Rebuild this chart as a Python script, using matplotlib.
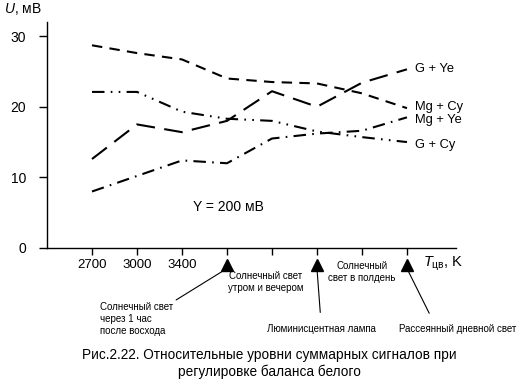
import matplotlib
matplotlib.use("Agg")
import matplotlib.pyplot as plt

plt.rcParams["font.family"] = ["Liberation Sans", "DejaVu Sans"]
plt.rcParams["mathtext.fontset"] = "custom"
plt.rcParams["mathtext.rm"] = "Liberation Sans"
plt.rcParams["mathtext.it"] = "Liberation Sans:italic"

# ----- Data -----
# x positions of the colour temperature ticks (only the first three are labelled)
x_pos = [0, 1, 2, 3, 4, 5, 6, 7]
tick_labels = ["2700", "3000", "3400", "", "", "", "", ""]

mg_cy = [28.7, 27.6, 26.7, 24.0, 23.5, 23.3, 21.9, 19.8]
g_ye = [12.6, 17.5, 16.4, 18.0, 22.2, 20.0, 23.4, 25.3]
g_cy = [22.1, 22.1, 19.3, 18.3, 18.0, 16.5, 15.7, 15.0]
mg_ye = [8.0, 10.2, 12.4, 12.0, 15.5, 16.2, 16.6, 18.5]

series_names = ["G + Ye", "Mg + Cy", "Mg + Ye", "G + Cy"]

# light sources marked under the axis
source_x = [3, 5, 7]

# ----- Plot -----
fig = plt.figure(figsize=(5.2, 3.87), dpi=100)
ax = fig.add_axes([47 / 520, 1 - 248 / 387, 409 / 520, 226 / 387])

lw = 1.5
ax.plot(x_pos, mg_cy, color="black", lw=lw, dashes=(5, 3.5))
ax.plot(x_pos, g_ye, color="black", lw=lw, dashes=(9, 4.5))
ax.plot(x_pos, g_cy, color="black", lw=lw, dashes=(6, 3, 0.8, 3, 0.8, 3))
ax.plot(x_pos, mg_ye, color="black", lw=lw, dashes=(6, 3, 0.8, 3))

ax.set_xlim(-1, 8.09)
ax.set_ylim(0, 32)
ax.set_xticks(x_pos)
ax.set_xticklabels(tick_labels)
ax.set_yticks([0, 10, 20, 30])
ax.spines["top"].set_visible(False)
ax.spines["right"].set_visible(False)
for s in ["left", "bottom"]:
    ax.spines[s].set_linewidth(1.0)
ax.tick_params(axis="y", length=6, width=1, pad=9, labelsize=10)
ax.tick_params(axis="x", length=5, width=1, pad=3, labelsize=9.5)

# curve labels
label_y = [25.3, 19.9, 18.1, 14.6]
for name, yy in zip(series_names, label_y):
    ax.text(7.18, yy, name, fontsize=9.3, va="center", ha="left")

ax.text(2.24, 5.8, "Y = 200 мВ", fontsize=10, va="center", ha="left")

# markers and notes below the axis
ax.plot(source_x, [-2.45] * len(source_x), "^", color="black", ms=8, clip_on=False)

fs = 7
ax.annotate("Солнечный свет\nчерез 1 час\nпосле восхода", xy=(3, -2.9), xytext=(0.18, -7.6),
            fontsize=fs, ha="left", va="top", linespacing=1.3, annotation_clip=False,
            arrowprops=dict(arrowstyle="-", color="black", lw=0.8, shrinkA=0, shrinkB=0,
                            relpos=(1.0, 1.0)))
ax.text(3.02, -3.3, "Солнечный свет\nутром и вечером", fontsize=fs, ha="left", va="top",
        multialignment="center", linespacing=1.2)
ax.text(5.25, -1.9, "Солнечный\nсвет в полдень", fontsize=fs, ha="left", va="top",
        multialignment="center", linespacing=1.2)
ax.annotate("Люминисцентная лампа", xy=(5, -2.9), xytext=(5.1, -11.4),
            fontsize=fs, ha="center", va="center", annotation_clip=False,
            arrowprops=dict(arrowstyle="-", color="black", lw=0.8, shrinkA=6, shrinkB=0))
ax.annotate("Рассеянный дневной свет", xy=(7, -2.9), xytext=(8.13, -11.4),
            fontsize=fs, ha="center", va="center", annotation_clip=False,
            arrowprops=dict(arrowstyle="-", color="black", lw=0.8, shrinkA=6, shrinkB=0,
                            relpos=(0.3, 1.0)))

ax.text(7.35, -2.2, r"$T_{\mathrm{цв}}$, K", fontsize=10.5, ha="left", va="center")
fig.text(4 / 520, 1 - 9 / 387, r"$U$, мВ", fontsize=10, ha="left", va="center")

fig.text(269 / 520, 1 - 355 / 387, "Рис.2.22. Относительные уровни суммарных сигналов при",
         fontsize=9.8, ha="center", va="center")
fig.text(269 / 520, 1 - 372 / 387, "регулировке баланса белого",
         fontsize=9.8, ha="center", va="center")

fig.savefig("out.png", dpi=100)
